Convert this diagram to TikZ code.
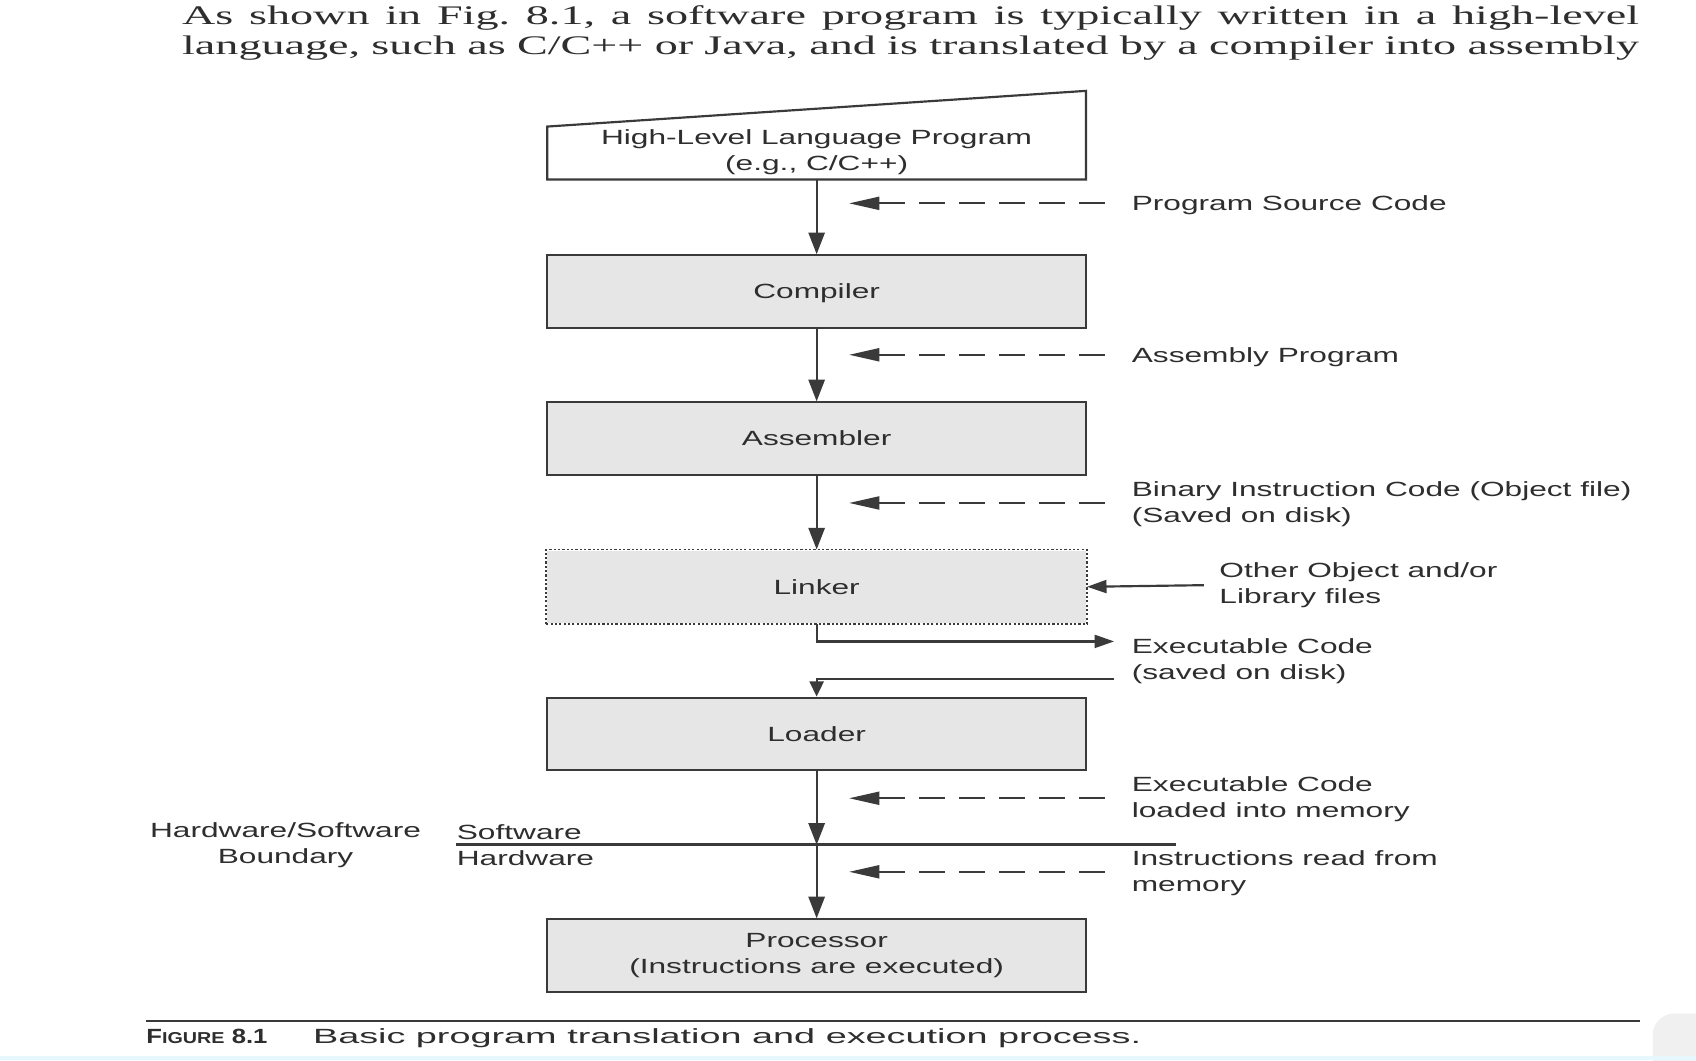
\documentclass[tikz,border=0pt]{standalone}
\usepackage{fontspec}
\usetikzlibrary{arrows.meta}
\newfontfamily\dfont[FakeStretch=1.54]{Liberation Sans}
\newfontfamily\cfont[FakeStretch=1.84]{Liberation Sans}
\newfontfamily\ffont[FakeStretch=1.25]{Liberation Sans Bold}
\newfontfamily\pfont[FakeStretch=1.72]{Liberation Serif}
\definecolor{txtc}{HTML}{2E2E2E}
\definecolor{boxfill}{HTML}{E6E6E6}
\definecolor{linec}{HTML}{3A3A3A}
\frenchspacing
\begin{document}
\begin{tikzpicture}[x=0.5pt,y=-0.5pt,
  lbl/.style={font=\dfont\fontsize{9.5}{12}\selectfont, text=txtc, inner sep=0pt},
  procbox/.style={lbl, draw=linec, fill=boxfill, line width=1pt,
    minimum width=249pt, minimum height=33.5pt, align=center},
  side/.style={lbl, anchor=west, align=left, inner xsep=8pt},
  flow/.style={draw=linec, line width=1pt, -{Triangle[length=10pt,width=7.5pt]}},
  note/.style={draw=linec, line width=1pt, dash pattern=on 12pt off 6.5pt,
    {Triangle[length=14pt,width=6pt]}-},
  feed/.style={draw=linec, line width=1pt, -{Triangle[length=9pt,width=6pt]}},
  para/.style={font=\pfont\fontsize{12.4}{14}\selectfont, text=txtc, inner sep=0pt, anchor=base west}
]
\useasboundingbox (0,0) rectangle (1568,980);
\fill[white] (0,0) rectangle (1568,980);
% screen artefacts at the bottom
\fill[gray!12, rounded corners=10pt] (1528,937) rectangle (1600,1010);
\fill[cyan!10] (0,976) rectangle (1568,980);

% paragraph text above the figure
\node[para] (p1) at (168,23) {\makebox[673.5pt][s]{As shown in Fig. 8.1, a software program is typically written in a high-level}};
\node[para] (p2) at (168,50) {\makebox[673.5pt][s]{language, such as C/C++ or Java, and is translated by a compiler into assembly}};

% high-level program (trapezoid)
\draw[draw=linec, fill=white, line width=1pt] (506,166) -- (506,117) -- (1004,84) -- (1004,166) -- cycle;
\node[lbl, align=center] (hl) at (755,141) {High-Level Language Program\\(e.g., C/C++)};
\coordinate (hlb) at (755,166);

% process boxes
\node[procbox, text depth=0pt] (comp) at (755,269.5) {Compiler};
\node[procbox] (asm) at (755,405.5) {Assembler};
\node[procbox, draw=none] (link) at (755,542.5) {Linker};
\draw[linec, line width=0.9pt, dash pattern=on 1pt off 1pt] (link.south west) rectangle (link.north east);
\node[procbox] (load) at (755,678.5) {Loader};
\node[procbox] (proc) at (755,883.5) {Processor\\(Instructions are executed)};

% main flow
\draw[flow] (hlb) -- (comp.north);
\draw[flow] (comp.south) -- (asm.north);
\draw[flow] (asm.south) -- (link.north);

% linker to/from disk
\node[side] (exe) at (1030,611) {Executable Code\\(saved on disk)};
\coordinate (e1) at (1030,593);
\coordinate (e2) at (1030,628);
\draw[feed] (link.south) |- (e1);
\draw[draw=linec, line width=1pt, -{Triangle[length=7pt,width=6.5pt]}] (e2) -| (load.north);

% other object files
\node[side, inner xsep=7pt] (olib) at (1113,541) {Other Object and/or\\Library files};
\draw[feed] (olib.west) -- (link.east);

% hardware / software boundary
\coordinate (bl) at (422,781);
\coordinate (br) at (1087,781);
\coordinate (bd) at (755,781);
\draw[linec, line width=1.5pt] (bl) -- (br);
\draw[flow] (load.south) -- (bd);
\draw[flow] (bd) -- (proc.north);
\node[lbl, align=center] (hsb) at (264,781) {Hardware/Software\\Boundary};
\node[lbl, anchor=west, align=left] (swhw) at (422,781) {Software\\Hardware};

% dashed annotations
\node[side, text depth=0pt] (l1) at (1030,188) {Program Source Code};
\coordinate (h1) at (785,188);
\draw[note] (h1) -- (h1 -| l1.west);
\node[side, text depth=0pt] (l2) at (1030,328) {Assembly Program};
\coordinate (h2) at (785,328);
\draw[note] (h2) -- (h2 -| l2.west);
\node[side] (l3) at (1030,466) {Binary Instruction Code (Object file)\\(Saved on disk)};
\coordinate (h3) at (785,465);
\draw[note] (h3) -- (h3 -| l3.west);
\node[side] (l4) at (1030,739) {Executable Code\\loaded into memory};
\coordinate (h4) at (785,738);
\draw[note] (h4) -- (h4 -| l4.west);
\node[side] (l5) at (1030,807) {Instructions read from\\memory};
\coordinate (h5) at (785,806);
\draw[note] (h5) -- (h5 -| l5.west);

% caption
\coordinate (cl) at (135,944);
\coordinate (cr) at (1516,944);
\draw[linec, line width=1.2pt] (cl) -- (cr);
\node[lbl, font=\ffont\fontsize{9.5}{12}\selectfont, anchor=base west] (fig) at (135,965) {F{\fontsize{7.3}{9}\selectfont IGURE} 8.1};
\node[lbl, font=\cfont\fontsize{9.5}{12}\selectfont, anchor=base west] (cap) at (289,965) {Basic program translation and execution process.};
\end{tikzpicture}
\end{document}
